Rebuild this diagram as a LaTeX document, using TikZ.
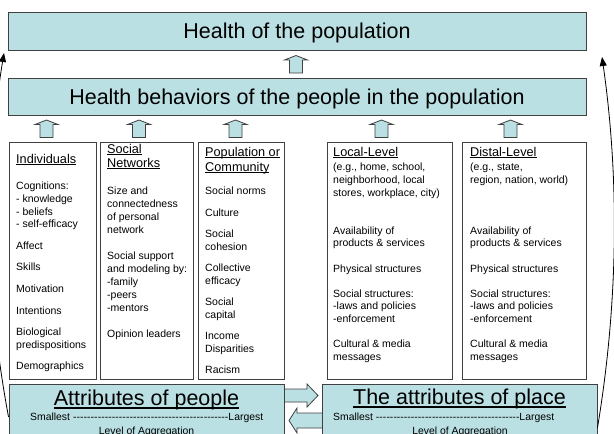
\documentclass[tikz,border=0pt]{standalone}
\usepackage{fontspec}
\setmainfont{Liberation Sans}
\usetikzlibrary{arrows.meta}
\definecolor{boxblue}{HTML}{BBE0E3}
\definecolor{edgegray}{HTML}{404040}
\newcommand\myul[1]{\leavevmode\setbox0\hbox{#1}\rlap{\rule[-0.14em]{\wd0}{0.075em}}\box0}
\tikzset{
  bluebox/.style={draw=edgegray, fill=boxblue, line width=0.9pt, inner sep=0pt},
  colbox/.style={draw=edgegray, fill=white, line width=0.9pt, inner sep=0pt},
  blockarrow/.style={draw=edgegray, fill=boxblue, line width=0.8pt, line join=miter},
  thinarrow/.style={draw=black, line width=0.8pt, -{Triangle[length=9pt,width=7pt]}},
  bigtxt/.style={font=\fontsize{21.5}{25}\selectfont, inner sep=0pt},
  smalltxt/.style={font=\fontsize{10.4}{12}\selectfont, inner sep=0pt},
  hdrtxt/.style={inner sep=0pt, anchor=base west},
  bodytxt/.style={inner sep=0pt, anchor=base west},
  uparr/.pic={\path[blockarrow] (-6.5,0) -- (-6.5,-13) -- (-11.5,-13) -- (0,-17.5) -- (11.5,-13) -- (6.5,-13) -- (6.5,0) -- cycle;}
}
\begin{document}
\begin{tikzpicture}[x=1pt,y=-1pt]
\useasboundingbox (0,0) rectangle (614,434);

% top boxes
\node[bluebox, bigtxt, minimum width=578pt, minimum height=38pt, text height=15.4pt, text depth=0pt] (health) at (297,31) {Health of the population};
\node[bluebox, bigtxt, minimum width=578pt, minimum height=37pt, text height=15.4pt, text depth=0pt] (behav) at (297,96.5) {Health behaviors of the people in the population};

% block arrows up
\pic at (296,73) {uparr};
\pic at (46.5,137.5) {uparr};
\pic at (139,137.5) {uparr};
\pic at (235.5,137.5) {uparr};
\pic at (381.5,137.5) {uparr};
\pic at (510.5,137.5) {uparr};

% column boxes
\node[colbox, minimum width=87pt, minimum height=237pt] (indiv) at (52.5,260.5) {};
\node[colbox, minimum width=93pt, minimum height=237pt] (social) at (146.5,260.5) {};
\node[colbox, minimum width=86pt, minimum height=237pt] (popul) at (241,260.5) {};
\node[colbox, minimum width=125pt, minimum height=237pt] (local) at (389.5,260.5) {};
\node[colbox, minimum width=124pt, minimum height=237pt] (distal) at (524,260.5) {};

% column headers
\node[hdrtxt] (indivh) at (16,163.6) {\parbox[t]{120pt}{\fontsize{12.7}{14.5}\selectfont\myul{Individuals}}};
\node[hdrtxt] (socialh) at (107,153.6) {\parbox[t]{120pt}{\fontsize{12.7}{14}\selectfont\myul{Social}\\\myul{Networks}}};
\node[hdrtxt] (populh) at (205,156.6) {\parbox[t]{120pt}{\fontsize{12.7}{15}\selectfont\myul{Population or}\\\myul{Community}}};
\node[hdrtxt] (localh) at (333,156.6) {\parbox[t]{120pt}{\fontsize{12.7}{15}\selectfont\myul{Local-Level}}};
\node[hdrtxt] (distalh) at (470,156.6) {\parbox[t]{120pt}{\fontsize{12.7}{15}\selectfont\myul{Distal-Level}}};

% column bodies
\node[bodytxt] (indivb) at (16,189.8) {\parbox[t]{150pt}{\fontsize{10.5}{12.6}\selectfont
Cognitions:\\- knowledge\\- beliefs\\- self-efficacy\\[9pt]
Affect\\[9pt]Skills\\[9pt]Motivation\\[9pt]Intentions\\[9pt]
Biological\\predispositions\\[9pt]Demographics}};
\node[bodytxt] (socialb) at (107,194.8) {\parbox[t]{150pt}{\fontsize{10.5}{13}\selectfont
Size and\\connectedness\\of personal\\network\\[13pt]
Social support\\and modeling by:\\-family\\-peers\\-mentors\\[13pt]
Opinion leaders}};
\node[bodytxt] (populb) at (205,194.8) {\parbox[t]{150pt}{\fontsize{10.5}{12.5}\selectfont
Social norms\\[9pt]Culture\\[9pt]Social\\cohesion\\[9pt]Collective\\efficacy\\[9pt]
Social\\capital\\[9pt]Income\\Disparities\\[9pt]Racism}};
\node[bodytxt] (localb) at (333,170.8) {\parbox[t]{150pt}{\fontsize{10.5}{12.65}\selectfont
(e.g., home, school,\\neighborhood, local\\stores, workplace, city)\\[25.3pt]
Availability of\\products \& services\\[12.65pt]
Physical structures\\[12.65pt]
Social structures:\\-laws and policies\\-enforcement\\[12.65pt]
Cultural \& media\\messages}};
\node[bodytxt] (distalb) at (470,170.8) {\parbox[t]{150pt}{\fontsize{10.5}{12.65}\selectfont
(e.g., state,\\region, nation, world)\\[37.95pt]
Availability of\\products \& services\\[12.65pt]
Physical structures\\[12.65pt]
Social structures:\\-laws and policies\\-enforcement\\[12.65pt]
Cultural \& media\\messages}};

% horizontal block arrows
\path[blockarrow] (280,389) -- (307,389) -- (307,384) -- (318,395.5) -- (307,407) -- (307,402) -- (280,402) -- cycle;
\path[blockarrow] (326,413) -- (297,413) -- (297,408) -- (289,420.5) -- (297,433) -- (297,428) -- (326,428) -- cycle;

% bottom boxes
\node[bluebox, minimum width=275pt, minimum height=66pt] (people) at (146.5,417) {};
\node[bluebox, minimum width=275pt, minimum height=88pt] (place) at (459.5,428) {};

\node[bigtxt, anchor=base] (peoplet) at (146.5,405.7) {\myul{Attributes of people}};
\node[smalltxt, anchor=base west] (peoples) at (30,420.7) {\hbox to 233pt{Smallest \xleaders\hbox{-}\hfill Largest}};
\node[smalltxt, anchor=base] (peoplel) at (146.5,434.6) {Level of Aggregation};

\node[bigtxt, anchor=base] (placet) at (459.5,404.7) {\myul{The attributes of place}};
\node[smalltxt, anchor=base west] (places) at (333,420.7) {\hbox to 221pt{Smallest \xleaders\hbox{-}\hfill Largest}};
\node[smalltxt, anchor=base] (placel) at (460,434.6) {Level of Aggregation};

% thin curved arrows
\coordinate (ltip) at (4,53);
\coordinate (rtip) at (602,57);
\draw[thinarrow] (people.west) .. controls (-14.3,295.7) and (-16,174.3) .. (ltip);
\draw[thinarrow] (place.east) .. controls (618,304.3) and (619.7,180.7) .. (rtip);
\end{tikzpicture}
\end{document}
